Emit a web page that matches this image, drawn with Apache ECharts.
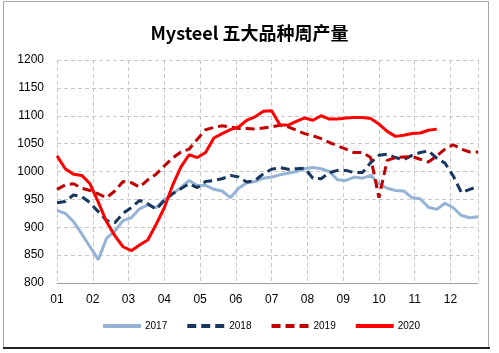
<!DOCTYPE html>
<html>
<head>
<meta charset="utf-8">
<script src="https://cdn.jsdelivr.net/npm/echarts@6/dist/echarts.min.js"></script>
<style>
  html, body { margin: 0; padding: 0; background: #fff; }
  #chart { width: 499px; height: 353px; }
</style>
</head>
<body>
<div id="chart"></div>
<script>
// 月份刻度标签
const monthLabels = ['01', '02', '03', '04', '05', '06', '07', '08', '09', '10', '11', '12']
const weeksPerMonth = 52 / 12

// 各年度周产量（万吨），按周排列
const y2017 = [930, 925, 910, 888, 865, 842, 880, 893, 912, 917, 933, 940, 935, 950, 960, 971, 984, 975, 975, 968,
  965, 953, 970, 980, 982, 988, 990, 994, 997, 1000, 1005, 1007, 1005, 1000, 985, 984, 990, 988, 993, 978,
  970, 966, 965, 953, 951, 936, 932, 943, 935, 921, 917, 919]
const y2018 = [944, 946, 958, 955, 944, 928, 912, 908, 925, 935, 948, 942, 932, 948, 960, 969, 978, 971, 982, 984,
  987, 993, 990, 981, 984, 996, 1004, 1007, 1004, 1005, 1006, 988, 987, 998, 1002, 1002, 998, 998, 1016, 1029,
  1031, 1025, 1021, 1029, 1034, 1037, 1024, 1015, 992, 962, 968, 973]
const y2019 = [968, 976, 978, 970, 966, 960, 953, 965, 982, 980, 972, 985, 995, 1010, 1024, 1035, 1040, 1058, 1075, 1079,
  1082, 1080, 1077, 1077, 1076, 1078, 1080, 1083, 1080, 1074, 1068, 1064, 1059, 1052, 1046, 1040, 1034, 1034, 1025, 953,
  1020, 1025, 1026, 1027, 1022, 1017, 1028, 1040, 1048, 1040, 1035, 1035]
const y2020 = [1028, 1005, 995, 993, 978, 945, 910, 885, 865, 858, 868, 877, 905, 935, 975, 1008, 1030, 1025, 1034, 1060,
  1068, 1075, 1080, 1092, 1098, 1108, 1109, 1084, 1083, 1090, 1096, 1092, 1100, 1094, 1094, 1096, 1097, 1097, 1095, 1085,
  1072, 1063, 1065, 1068, 1069, 1074, 1076]

// 转成 [周序号, 值]
const toPoints = (arr) => arr.map((v, i) => [i, v])

const chart = echarts.init(document.getElementById('chart'))

const gridDash = { color: '#c8c8c8', type: [4, 3], width: 1 }

const makeSeries = (name, data, color, dashed) => ({
  name: name,
  type: 'line',
  data: toPoints(data),
  symbol: 'none',
  lineStyle: { color: color, width: 3, type: dashed ? [9, 5] : 'solid' },
  itemStyle: { color: color },
  animation: false
})

const options = {
  backgroundColor: '#fff',
  title: {
    text: 'Mysteel 五大品种周产量',
    left: 'center',
    top: 19,
    textStyle: {
      fontFamily: 'Noto Sans CJK SC',
      fontSize: 18,
      fontWeight: 'bold',
      color: '#000'
    }
  },
  // 外框
  graphic: [
    {
      type: 'rect',
      shape: { x: 3.5, y: 1.5, width: 485, height: 346 },
      style: { fill: 'none', stroke: '#a6a6a6', lineWidth: 1 },
      silent: true
    },
    {
      type: 'line',
      shape: { x1: 3, y1: 348, x2: 490, y2: 348 },
      style: { stroke: '#222', lineWidth: 2 },
      silent: true
    }
  ],
  legend: {
    bottom: 17,
    left: 96,
    itemWidth: 38,
    itemHeight: 6,
    itemGap: 18,
    // 只显示线，不显示圆点
    itemStyle: { opacity: 0 },
    lineStyle: { width: 4 },
    textStyle: { fontSize: 10, color: '#000', fontFamily: 'Liberation Sans', padding: [0, 0, 0, -1] },
    data: ['2017', '2018', '2019', '2020']
  },
  grid: { left: 57, right: 21, top: 60, bottom: 70 },
  xAxis: {
    type: 'value',
    min: 0,
    max: 51,
    interval: weeksPerMonth,
    axisLine: { show: true, lineStyle: { color: '#a0a0a0', width: 1 } },
    axisTick: { show: false },
    splitLine: { show: true, lineStyle: gridDash },
    axisLabel: {
      color: '#000',
      fontSize: 12,
      margin: 11,
      fontFamily: 'Liberation Sans',
      showMaxLabel: false,
      formatter: (v) => {
        const m = v / weeksPerMonth
        if (Math.abs(m - Math.round(m)) > 0.01) return ''
        return monthLabels[Math.round(m)] || ''
      }
    }
  },
  yAxis: {
    type: 'value',
    min: 800,
    max: 1200,
    interval: 50,
    axisLine: { show: false },
    axisTick: { show: false },
    splitLine: { show: true, lineStyle: gridDash },
    axisLabel: {
      color: '#000',
      fontSize: 12,
      margin: 13,
      fontFamily: 'Liberation Sans',
      formatter: (v) => String(v) // 不要千分位
    }
  },
  series: [
    makeSeries('2017', y2017, '#95b3d7', false),
    makeSeries('2018', y2018, '#17375e', true),
    makeSeries('2019', y2019, '#c00000', true),
    makeSeries('2020', y2020, '#ff0000', false)
  ]
}

chart.setOption(options)
</script>
</body>
</html>
